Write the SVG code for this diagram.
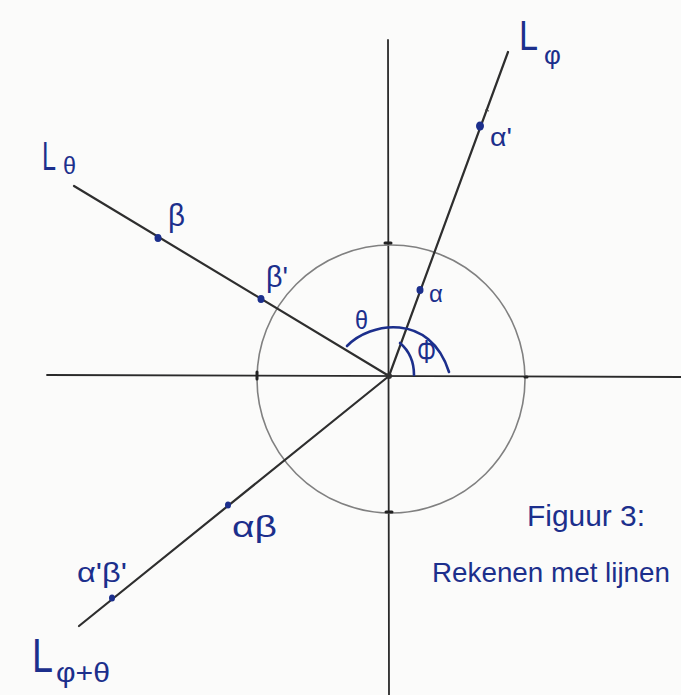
<svg xmlns="http://www.w3.org/2000/svg" width="681" height="695" viewBox="0 0 681 695">
<style>
.ax{stroke:#2a2a2a;stroke-width:1.8;fill:none;stroke-linecap:round}
.ln{stroke:#2e2e2e;stroke-width:2.2;fill:none;stroke-linecap:round}
.cir{stroke:#808080;stroke-width:1.6;fill:none}
.tick{stroke:#222;stroke-width:3;stroke-linecap:round}
.ink{stroke:#1c2f8c;stroke-width:2.6;fill:none;stroke-linecap:round}
.dot{fill:#1c2f8c}
text{font-family:"Liberation Sans","DejaVu Sans",sans-serif;fill:#1c2f8c}
</style>
<rect width="681" height="695" fill="#fbfbfa"/>
<g id="axes">
<line class="ax" x1="47" y1="375" x2="681" y2="377"/>
<line class="ax" x1="388" y1="40" x2="389" y2="695"/>
</g>
<g id="unit-circle">
<circle class="cir" cx="391" cy="379" r="134"/>
<line class="tick" x1="385" y1="243" x2="391" y2="243"/>
<line class="tick" x1="386" y1="512" x2="392" y2="512"/>
<line class="tick" x1="257" y1="372" x2="257" y2="379"/>
<line class="tick" x1="525" y1="377" x2="527" y2="377"/>
</g>
<g id="connectors">
<line class="ln" x1="74" y1="186" x2="389" y2="376"/>
<line class="ln" x1="389" y1="376" x2="508" y2="52"/>
<line class="ln" x1="389" y1="376" x2="79" y2="626"/>
<line x1="485" y1="110" x2="489" y2="111" stroke="#444" stroke-width="1.2"/>
<circle cx="389" cy="376" r="3" fill="#333"/>
</g>
<g id="angles">
<path class="ink" d="M347,346 C370,322 430,312 449,372"/>
<path class="ink" d="M400,343 Q414,355 414,375"/>
</g>
<g id="points">
<ellipse class="dot" cx="158" cy="238" rx="3.5" ry="4"/>
<ellipse class="dot" cx="261" cy="299" rx="3.5" ry="4"/>
<ellipse class="dot" cx="420" cy="290" rx="3.5" ry="4"/>
<ellipse class="dot" cx="480" cy="126" rx="4" ry="4.5"/>
<ellipse class="dot" cx="228" cy="505" rx="3" ry="3.5"/>
<ellipse class="dot" cx="112" cy="598" rx="3" ry="3.5"/>
</g>
<g id="labels">
<text x="519" y="50" font-size="42" textLength="19" lengthAdjust="spacingAndGlyphs">L</text>
<text x="544" y="64" font-size="26">φ</text>
<text x="42" y="170" font-size="40" textLength="14" lengthAdjust="spacingAndGlyphs">L</text>
<text x="63" y="174" font-size="24" textLength="13" lengthAdjust="spacingAndGlyphs">θ</text>
<text x="32" y="672" font-size="48" textLength="21" lengthAdjust="spacingAndGlyphs">L</text>
<text x="56" y="682" font-size="28" textLength="54" lengthAdjust="spacingAndGlyphs">φ+θ</text>
<text x="168" y="226" font-size="32" textLength="17" lengthAdjust="spacingAndGlyphs">β</text>
<text x="266" y="287" font-size="30" textLength="22" lengthAdjust="spacingAndGlyphs">β'</text>
<text x="490" y="146" font-size="26" textLength="22" lengthAdjust="spacingAndGlyphs">α'</text>
<text x="429" y="302" font-size="24">α</text>
<text x="355" y="329" font-size="26" textLength="13" lengthAdjust="spacingAndGlyphs">θ</text>
<text x="417" y="363" font-size="34" textLength="19" lengthAdjust="spacingAndGlyphs">Φ</text>
<text x="232" y="537" font-size="30" textLength="45" lengthAdjust="spacingAndGlyphs">αβ</text>
<text x="77" y="582" font-size="28" textLength="50" lengthAdjust="spacingAndGlyphs">α'β'</text>
<text x="527" y="526" font-size="30" textLength="118" lengthAdjust="spacingAndGlyphs">Figuur 3:</text>
<text x="432" y="582" font-size="28" textLength="238" lengthAdjust="spacingAndGlyphs">Rekenen met lijnen</text>
</g>
</svg>
